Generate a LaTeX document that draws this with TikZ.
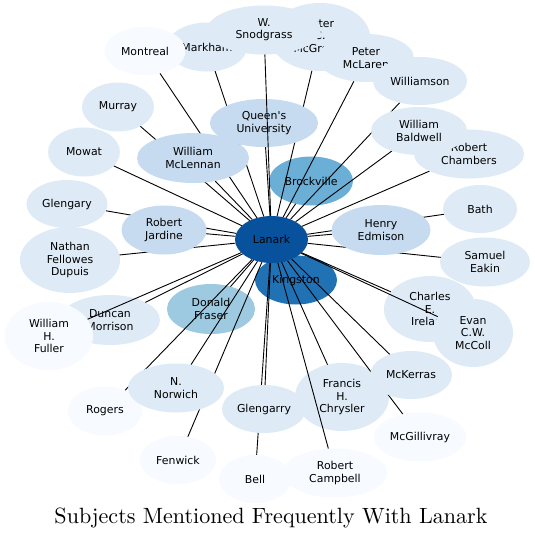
\documentclass[tikz,border=0pt]{standalone}
\usepackage{fontspec}
\newfontfamily\labelfont{DejaVu Sans}
\usetikzlibrary{shapes.geometric}
\pgfdeclarelayer{bg}
\pgfdeclarelayer{under}
\pgfdeclarelayer{edges}
\pgfsetlayers{bg,under,edges,main}
\definecolor{bA}{HTML}{F7FBFF}
\definecolor{bB}{HTML}{DEEBF7}
\definecolor{bC}{HTML}{C6DBEF}
\definecolor{bD}{HTML}{9ECAE1}
\definecolor{bE}{HTML}{6BAED6}
\definecolor{bF}{HTML}{2171B5}
\definecolor{bG}{HTML}{08519C}
\tikzset{
  nd/.style={ellipse, inner sep=0pt, outer sep=0pt, align=center, draw=none,
    font=\labelfont\fontsize{10.9}{12.2}\selectfont, text=black},
  sz/.style n args={2}{minimum width=#1pt, minimum height=#2pt},
  lnk/.style={draw=black, line width=0.9pt},
}
\begin{document}
\begin{tikzpicture}[x=1pt,y=-1pt]
\useasboundingbox (0,0) rectangle (535,539);
\begin{pgfonlayer}{bg}
\fill[white] (0,0) rectangle (535,539);
\end{pgfonlayer}

% nodes lying under the connectors
\begin{pgfonlayer}{under}
\node[nd, sz={82}{49}, fill=bF] (kingston) at (296,280) {Kingston};
\node[nd, sz={84}{49}, fill=bE] (brockville) at (311,181) {Brockville};
\node[nd, sz={88}{50}, fill=bD] (fraser) at (211,309) {Donald\\Fraser};
\node[nd, sz={100}{50}, fill=bB] (morrison) at (110,320) {Duncan\\Morrison};
\node[nd, sz={92}{66}, fill=bB] (ireland) at (430,309) {Charles\\E.\\Ireland};
\node[nd, sz={94}{68}, fill=bB] (chrysler) at (342,397) {Francis\\H.\\Chrysler};
\end{pgfonlayer}

% nodes above the connectors
\node[nd, sz={80}{49}, fill=bB] (markham) at (207,47) {Markham};
\node[nd, sz={81}{48}, fill=bA] (montreal) at (145,51) {Montreal};
\node[nd, sz={100}{68}, fill=bB] (mcgregor) at (320,37) {Peter\\C.\\McGregor};
\node[nd, sz={114}{49}, fill=bB] (snodgrass) at (264,30) {W.\\Snodgrass};
\node[nd, sz={96}{48}, fill=bB] (mclaren) at (366,58) {Peter\\McLaren};
\node[nd, sz={94}{48}, fill=bB] (williamson) at (420,81) {Williamson};
\node[nd, sz={110}{49}, fill=bB] (chambers) at (469,154) {Robert\\Chambers};
\node[nd, sz={96}{48}, fill=bB] (baldwell) at (419,131) {William\\Baldwell};
\node[nd, sz={108}{48}, fill=bC] (queens) at (264,123) {Queen's\\University};
\node[nd, sz={112}{50}, fill=bC] (mclennan) at (193,158) {William\\McLennan};
\node[nd, sz={72}{49}, fill=bB] (murray) at (118,107) {Murray};
\node[nd, sz={72}{49}, fill=bB] (mowat) at (84,152) {Mowat};
\node[nd, sz={81}{48}, fill=bB] (glengaryl) at (67,204) {Glengary};
\node[nd, sz={100}{66}, fill=bB] (dupuis) at (70,260) {Nathan\\Fellowes\\Dupuis};
\node[nd, sz={85}{49}, fill=bC] (jardine) at (164,230) {Robert\\Jardine};
\node[nd, sz={99}{50}, fill=bC] (edmison) at (381,230) {Henry\\Edmison};
\node[nd, sz={74}{48}, fill=bB] (bath) at (480,209) {Bath};
\node[nd, sz={90}{49}, fill=bB] (eakin) at (485,262) {Samuel\\Eakin};
\node[nd, sz={80}{68}, fill=bB] (mccoll) at (473,333) {Evan\\C.W.\\McColl};
\node[nd, sz={92}{49}, fill=bA] (mcgillivray) at (420,437) {McGillivray};
\node[nd, sz={82}{48}, fill=bB] (mckerras) at (411,375) {McKerras};
\node[nd, sz={72}{48}, fill=bA] (bell) at (255,479) {Bell};
\node[nd, sz={104}{49}, fill=bA] (campbell) at (335,473) {Robert\\Campbell};
\node[nd, sz={84}{48}, fill=bB] (glengarryb) at (264,409) {Glengarry};
\node[nd, sz={76}{48}, fill=bA] (fenwick) at (178,460) {Fenwick};
\node[nd, sz={74}{49}, fill=bA] (rogers) at (105,411) {Rogers};
\node[nd, sz={96}{49}, fill=bB] (norwich) at (176,388) {N.\\Norwich};
\node[nd, sz={88}{68}, fill=bA] (fuller) at (49,336) {William\\H.\\Fuller};
\node[nd, sz={73}{47}, fill=bG] (lanark) at (271.5,239.5) {Lanark};

% connectors
\begin{pgfonlayer}{edges}
\foreach \t in {kingston,brockville,fraser,morrison,ireland,chrysler,
  markham,montreal,mcgregor,mclaren,williamson,chambers,baldwell,queens,
  mclennan,murray,mowat,glengaryl,dupuis,jardine,edmison,bath,eakin,mccoll,
  mcgillivray,mckerras,bell,campbell,glengarryb,fenwick,rogers,norwich,fuller}
  \draw[lnk] (lanark) -- (\t);
\end{pgfonlayer}
\draw[lnk] (lanark) -- (snodgrass);

% title
\node (title) at (271,518) {\resizebox{433pt}{!}{Subjects Mentioned Frequently With Lanark}};
\end{tikzpicture}
\end{document}
